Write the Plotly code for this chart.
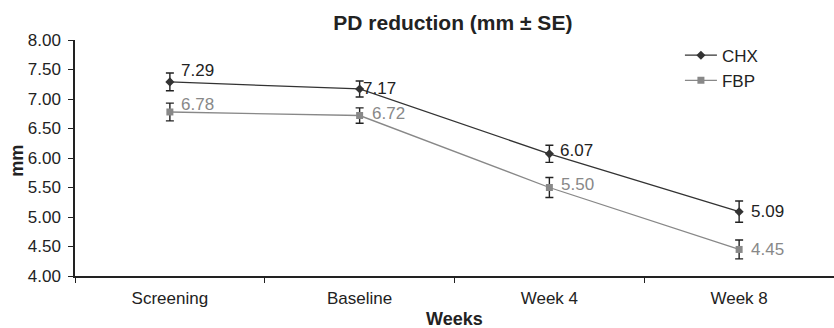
import plotly.graph_objects as go

categories = ["Screening", "Baseline", "Week 4", "Week 8"]
chx = [7.29, 7.17, 6.07, 5.09]
chx_se = [0.15, 0.135, 0.145, 0.18]
fbp = [6.78, 6.72, 5.50, 4.45]
fbp_se = [0.15, 0.13, 0.17, 0.16]
y_ticks = [4.0, 4.5, 5.0, 5.5, 6.0, 6.5, 7.0, 7.5, 8.0]

# label placement (style only)
chx_lab_dx = [9, 1, 9, 10]
chx_lab_dy = [11, 0, 3, 0]
fbp_lab_dx = [9, 10, 10, 10]
fbp_lab_dy = [7, 2, 3, 0]

CHX_C = "#333333"
FBP_C = "#888888"
TXT = "#222222"
FONT = "Liberation Sans, Arial, sans-serif"

fig = go.Figure()
fig.add_trace(go.Scatter(
    x=categories, y=chx, name="CHX", mode="lines+markers",
    line=dict(color=CHX_C, width=1.3),
    marker=dict(symbol="diamond", size=7, color=CHX_C),
    error_y=dict(type="data", array=chx_se, color=TXT, thickness=1.4, width=4),
))
fig.add_trace(go.Scatter(
    x=categories, y=fbp, name="FBP", mode="lines+markers",
    line=dict(color=FBP_C, width=1.3),
    marker=dict(symbol="square", size=7, color=FBP_C),
    error_y=dict(type="data", array=fbp_se, color=TXT, thickness=1.4, width=4),
))

for c, v, dx, dy in zip(categories, chx, chx_lab_dx, chx_lab_dy):
    fig.add_annotation(x=c, y=v, text=f"{v:.2f}", showarrow=False,
                       xanchor="left", yanchor="middle", xshift=dx, yshift=dy,
                       font=dict(size=17, color=TXT, family=FONT))
for c, v, dx, dy in zip(categories, fbp, fbp_lab_dx, fbp_lab_dy):
    fig.add_annotation(x=c, y=v, text=f"{v:.2f}", showarrow=False,
                       xanchor="left", yanchor="middle", xshift=dx, yshift=dy,
                       font=dict(size=17, color=FBP_C, family=FONT))

# axis titles
fig.add_annotation(xref="paper", yref="paper", x=0.5, y=-0.182, text="<b>Weeks</b>",
                   showarrow=False, xanchor="center", yanchor="middle",
                   font=dict(size=18, color=TXT, family=FONT))
fig.add_annotation(xref="paper", yref="paper", x=-0.0758, y=0.49, text="<b>mm</b>",
                   showarrow=False, xanchor="center", yanchor="middle", textangle=-90,
                   font=dict(size=18, color=TXT, family=FONT))

fig.update_layout(
    width=834, height=328,
    margin=dict(l=75, r=0, t=40, b=52, autoexpand=False),
    plot_bgcolor="white", paper_bgcolor="white",
    font=dict(family=FONT, size=17, color=TXT),
    title=dict(text="<b>PD reduction (mm ± SE)</b>", x=0.543, xanchor="center",
               y=0.932, yanchor="middle", font=dict(size=21, color=TXT)),
    legend=dict(x=0.797, y=1.01, xanchor="left", yanchor="top",
                font=dict(size=17, color=TXT), bgcolor="rgba(0,0,0,0)",
                itemwidth=32, tracegroupgap=2),
    showlegend=True,
)
fig.update_xaxes(
    type="category", range=[-0.5, 3.5], tickson="boundaries",
    ticks="outside", ticklen=5, tickcolor=TXT, automargin=False,
    showline=True, linecolor=TXT, linewidth=1.5,
    showgrid=False, zeroline=False, ticklabelstandoff=6,
    tickfont=dict(size=17, color=TXT),
)
fig.update_yaxes(
    range=[4.0, 8.0], tickvals=y_ticks, ticktext=[f"{t:.2f}" for t in y_ticks],
    ticks="outside", ticklen=5, tickcolor=TXT, automargin=False,
    showline=True, linecolor=TXT, linewidth=1.5,
    showgrid=False, zeroline=False, ticklabelstandoff=4,
    tickfont=dict(size=17, color=TXT),
)

fig.write_html("out.html", config={"displayModeBar": False},
               post_script="document.body.style.margin='0';document.body.style.overflow='hidden';")
